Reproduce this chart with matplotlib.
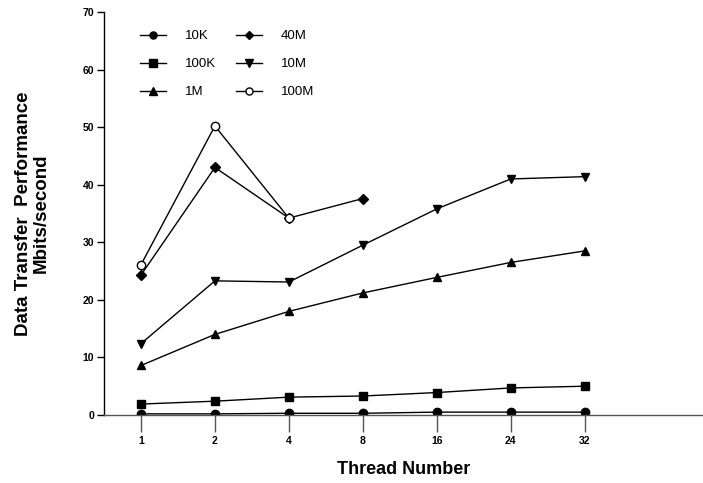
import numpy as np
import matplotlib.pyplot as plt

plt.rcParams['font.family'] = ['Liberation Sans', 'DejaVu Sans']

# Data
threads = ["1", "2", "4", "8", "16", "24", "32"]
s10k = [0.2, 0.2, 0.3, 0.3, 0.5, 0.5, 0.5]
s100k = [1.9, 2.4, 3.1, 3.3, 3.9, 4.7, 5.0]
s1m = [8.6, 14.0, 18.0, 21.2, 23.9, 26.5, 28.5]
s10m = [12.4, 23.3, 23.1, 29.5, 35.8, 41.0, 41.4]
s40m = [24.3, 43.0, 34.2, 37.6]
s100m = [26.1, 50.2, 34.2]

fig = plt.figure(figsize=(7.03, 4.83), dpi=100)
ax = fig.add_axes([104 / 703, 1 - 415 / 483, 1 - 104 / 703, (415 - 12) / 483])

x = np.arange(len(threads))
kw = dict(color="black", linewidth=1.0, markersize=6)
ax.plot(x, s10k, marker="o", label="10K", **kw)
ax.plot(x, s100k, marker="s", label="100K", **kw)
ax.plot(x, s1m, marker="^", label="1M", **kw)
ax.plot(x[:len(s40m)], s40m, marker="D", label="40M", color="black",
        linewidth=1.0, markersize=5)
ax.plot(x, s10m, marker="v", label="10M", **kw)
ax.plot(x[:len(s100m)], s100m, marker="o", markerfacecolor="white",
        label="100M", color="black", linewidth=1.0, markersize=6)

ax.set_xlim(-0.5, 7.6)
ax.set_ylim(0, 70)
ax.set_xticks(x)
ax.set_xticklabels(threads)
ax.set_yticks(np.arange(0, 71, 10))

for s in ["top", "right"]:
    ax.spines[s].set_visible(False)
ax.spines["left"].set_linewidth(1.0)
ax.spines["bottom"].set_linewidth(1.0)
ax.spines["bottom"].set_color("#555555")

ax.tick_params(axis="x", direction="out", length=12, width=1, pad=3,
               labelsize=7.5, color="#555555")
ax.tick_params(axis="y", direction="out", length=5, width=1, pad=2,
               labelsize=7.5)
for lab in ax.get_xticklabels() + ax.get_yticklabels():
    lab.set_fontweight("bold")

ax.set_xlabel("Thread Number", fontsize=13, fontweight="bold", labelpad=11)
ax.set_ylabel("Data Transfer  Performance\nMbits/second", fontsize=13.5,
              fontweight="bold", labelpad=24, linespacing=1.05)

ax.legend(ncol=2, frameon=False, fontsize=9.5, loc="upper left",
          bbox_to_anchor=(0.04, 0.985), handlelength=2.0, labelspacing=1.2,
          columnspacing=1.5, handletextpad=1.4, markerscale=0.85)

fig.savefig("out.png", dpi=100)
